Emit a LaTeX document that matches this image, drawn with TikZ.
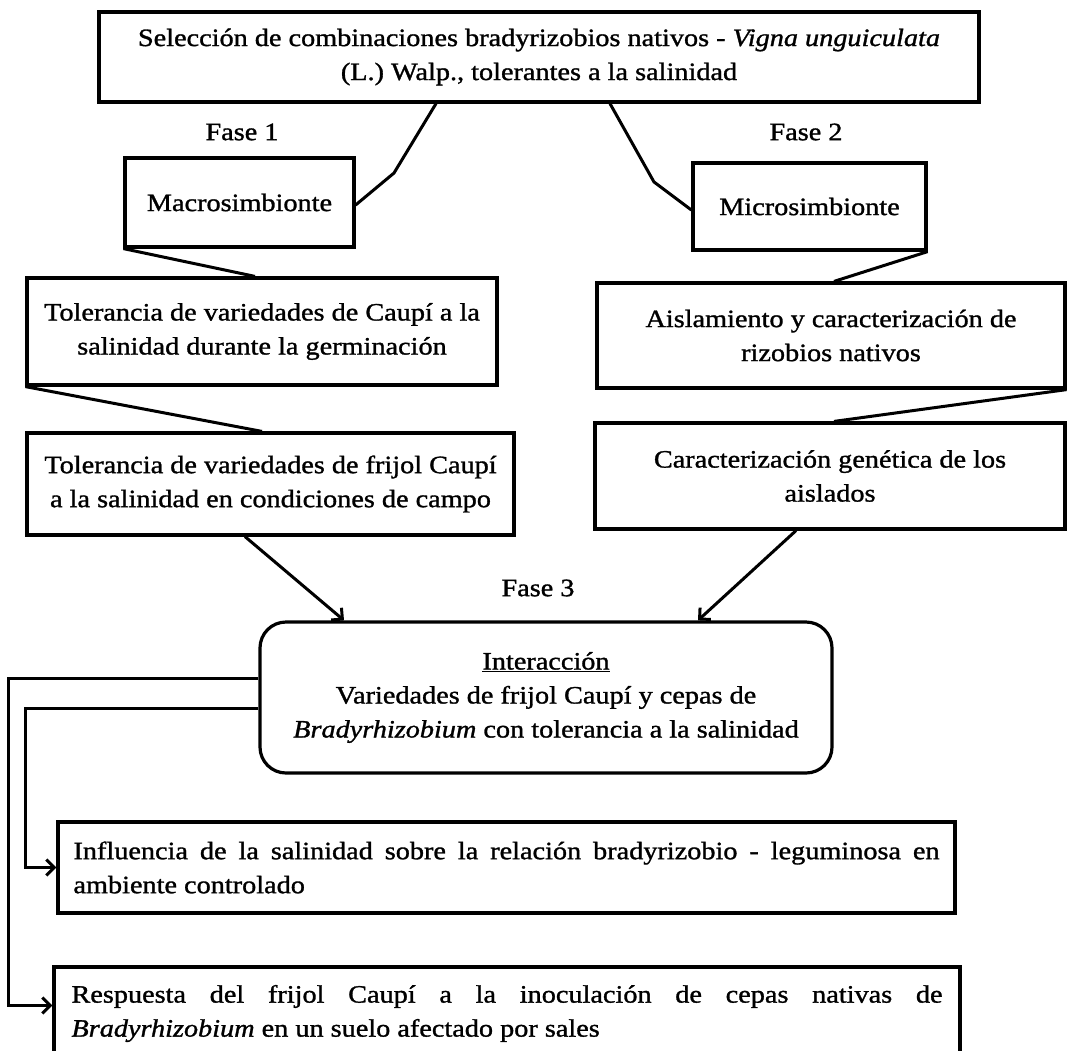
\documentclass[tikz,border=0pt]{standalone}
\usepackage{fontspec}
\setmainfont{Liberation Serif}[FakeStretch=1.13,FakeBold=1.2]
\usetikzlibrary{arrows.meta,calc}
\begin{document}
\begin{tikzpicture}[x=1pt,y=-1pt,
 box/.style={draw, line width=3.2pt, inner sep=0pt, align=center, font=\fontsize{25}{34}\selectfont},
 jbox/.style={box, align=justify},
 lbl/.style={font=\fontsize{25}{30}\selectfont},
 conn/.style={line width=3pt, line join=miter},
 arr/.style={conn, -{Straight Barb[length=8pt,width=16pt,line width=3pt]}}]
\useasboundingbox (0,0) rectangle (1068,1050);
\node[box, minimum width=880pt, minimum height=90pt] (top) at (539,57)
  {Selección de combinaciones bradyrizobios nativos - \textit{Vigna unguiculata}\\(L.) Walp., tolerantes a la salinidad};
\node[lbl] (f1) at (242,132) {Fase 1};
\node[lbl] (f2) at (806,132) {Fase 2};
\node[box, minimum width=229pt, minimum height=89pt] (macro) at (239.5,202.5) {Macrosimbionte};
\node[box, minimum width=233pt, minimum height=87pt] (micro) at (809.5,206.5) {Microsimbionte};
\node[box, minimum width=470pt, minimum height=107pt] (tol1) at (262,331.5)
  {Tolerancia de variedades de Caupí a la\\salinidad durante la germinación};
\node[box, minimum width=468pt, minimum height=105pt] (aisl) at (831,335.5)
  {Aislamiento y caracterización de\\rizobios nativos};
\node[box, minimum width=487pt, minimum height=102pt] (tol2) at (270.5,484)
  {Tolerancia de variedades de frijol Caupí\\a la salinidad en condiciones de campo};
\node[box, minimum width=470pt, minimum height=106pt] (carac) at (830,476)
  {Caracterización genética de los\\aislados};
\node[lbl] (f3) at (538,588) {Fase 3};
\node[box, rounded corners=26pt, minimum width=572pt, minimum height=151pt] (inter) at (546,697.5)
  {\underline{Interacción}\\Variedades de frijol Caupí y cepas de\\\textit{Bradyrhizobium} con tolerancia a la salinidad};
\node[jbox, minimum width=897pt, minimum height=91pt, text width=866pt] (influ) at (506.5,867.5)
  {Influencia de la salinidad sobre la relación bradyrizobio - leguminosa en\linebreak ambiente controlado};
\node[jbox, minimum width=906pt, minimum height=93pt, text width=871pt] (resp) at (507,1013.5)
  {Respuesta del frijol Caupí a la inoculación de cepas nativas de\linebreak \textit{Bradyrhizobium} en un suelo afectado por sales};
% connectors
\coordinate (k1) at (394,173);
\coordinate (k2) at (654,182);
\draw[conn] ([xshift=-103pt]top.south) -- (k1) -- ([yshift=-2.5pt]macro.east);
\draw[conn] ([xshift=71pt]top.south) -- (k2) -- ([yshift=-3.5pt]micro.west);
\draw[conn] (macro.south west) -- ([xshift=-7pt]tol1.north);
\draw[conn] (micro.south east) -- ([xshift=3pt]aisl.north);
\draw[conn] (tol1.south west) -- ([xshift=-8.5pt]tol2.north);
\draw[conn] (aisl.south east) -- ([xshift=4pt]carac.north);
\draw[arr] ([xshift=-25.5pt]tol2.south) -- ([xshift=-202pt]inter.north);
\draw[arr] ([xshift=-34pt]carac.south) -- ([xshift=152pt]inter.north);
\draw[arr] ([yshift=19.5pt]inter.west) -- ++(-250,0) |- ([yshift=8pt]resp.west);
\draw[arr] ([yshift=-10.5pt]inter.west) -- ++(-233,0) |- (influ.west);
\end{tikzpicture}
\end{document}
